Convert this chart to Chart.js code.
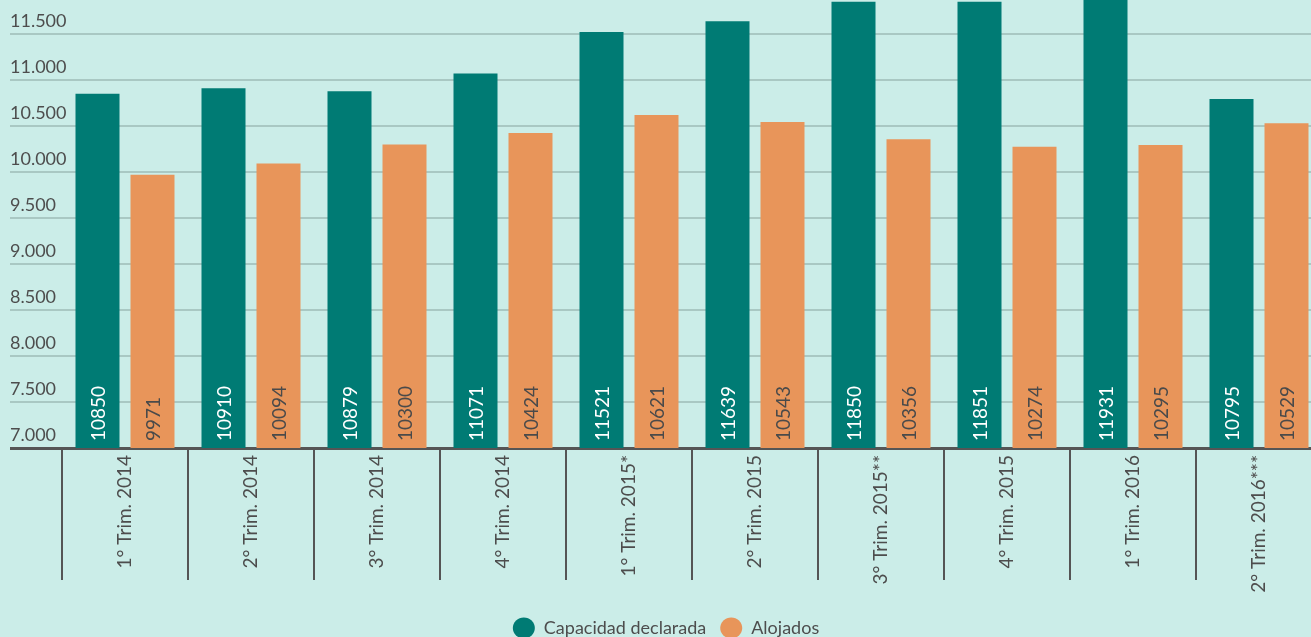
<!DOCTYPE html>
<html>
<head>
<meta charset="utf-8">
<script src="https://cdn.jsdelivr.net/npm/chart.js@4"></script>
<style>
  html, body { margin: 0; padding: 0; background: #cbede8; overflow: hidden; }
  #wrap { width: 1322px; height: 647px; position: relative; }
</style>
</head>
<body>
<div id="wrap"><canvas id="chart"></canvas></div>
<script>
const trimestres = ['1° Trim. 2014', '2° Trim. 2014', '3° Trim. 2014', '4° Trim. 2014', '1° Trim. 2015*',
  '2° Trim. 2015', '3° Trim. 2015**', '4° Trim. 2015', '1° Trim. 2016', '2° Trim. 2016***'];
const capacidad = [10850, 10910, 10879, 11071, 11521, 11639, 11850, 11851, 11931, 10795];
const alojados = [9971, 10094, 10300, 10424, 10621, 10543, 10356, 10274, 10295, 10529];
const yMin = 7000;
const yMax = 11870;
const yTicks = [7000, 7500, 8000, 8500, 9000, 9500, 10000, 10500, 11000, 11500];

const FONT = 'Lato, "Noto Sans", sans-serif';
const TEXT = '#4d4d4d';

function miles(v) {
  return String(v).replace(/\B(?=(\d{3})+(?!\d))/g, '.');
}

// numbers written up the bottom of each bar
const barLabels = {
  id: 'barLabels',
  afterDatasetsDraw(chart) {
    const ctx = chart.ctx;
    const bottom = chart.scales.y.bottom;
    chart.data.datasets.forEach((ds, i) => {
      const meta = chart.getDatasetMeta(i);
      meta.data.forEach((bar, j) => {
        ctx.save();
        ctx.translate(bar.x, bottom - 7);
        ctx.rotate(-Math.PI / 2);
        ctx.font = '19px ' + FONT;
        ctx.fillStyle = i === 0 ? '#ffffff' : '#4a4a4a';
        ctx.textAlign = 'left';
        ctx.textBaseline = 'middle';
        ctx.fillText(String(ds.data[j]), 0, 1);
        ctx.restore();
      });
    });
  }
};

new Chart(document.getElementById('chart'), {
  type: 'bar',
  data: {
    labels: trimestres,
    datasets: [
      { label: 'Capacidad declarada', data: capacidad, backgroundColor: '#007b74' },
      { label: 'Alojados', data: alojados, backgroundColor: '#e8955a' }
    ]
  },
  options: {
    responsive: true,
    maintainAspectRatio: false,
    animation: false,
    categoryPercentage: 0.873,
    barPercentage: 0.8,
    layout: { padding: { left: 10, right: 0, top: 0, bottom: 0 } },
    plugins: {
      legend: {
        position: 'bottom',
        labels: {
          usePointStyle: true,
          pointStyle: 'circle',
          boxHeight: 15,
          pointStyleWidth: 22,
          padding: 14,
          color: TEXT,
          font: { family: FONT, size: 18 }
        }
      },
      tooltip: { enabled: false }
    },
    scales: {
      x: {
        grid: {
          drawOnChartArea: false,
          drawTicks: true,
          tickLength: 132,
          color: '#555555',
          lineWidth: 2
        },
        border: { display: true, color: '#555555', width: 3 },
        ticks: {
          autoSkip: false,
          minRotation: 90,
          maxRotation: 90,
          padding: -125,
          color: TEXT,
          font: { family: FONT, size: 19 }
        },
        afterFit(scale) {
          scale.height = 157;
          scale.paddingLeft = 0;
          scale.paddingRight = 0;
        }
      },
      y: {
        min: yMin,
        max: yMax,
        border: { display: false },
        grid: {
          tickLength: 52,
          color: ctx => ctx.tick && ctx.tick.value === yMin ? '#555555' : '#a9c8c3',
          lineWidth: ctx => ctx.tick && ctx.tick.value === yMin ? 3 : 2
        },
        ticks: {
          autoSkip: false,
          mirror: true,
          crossAlign: 'near',
          padding: -52,
          labelOffset: -13,
          color: TEXT,
          font: { family: FONT, size: 18 },
          callback: v => miles(v)
        },
        afterBuildTicks(scale) {
          scale.ticks = yTicks.map(v => ({ value: v }));
        },
        afterFit(scale) {
          scale.width = 52;
          scale.paddingTop = 0;
          scale.paddingBottom = 0;
        }
      }
    }
  },
  plugins: [barLabels]
});
</script>
</body>
</html>
